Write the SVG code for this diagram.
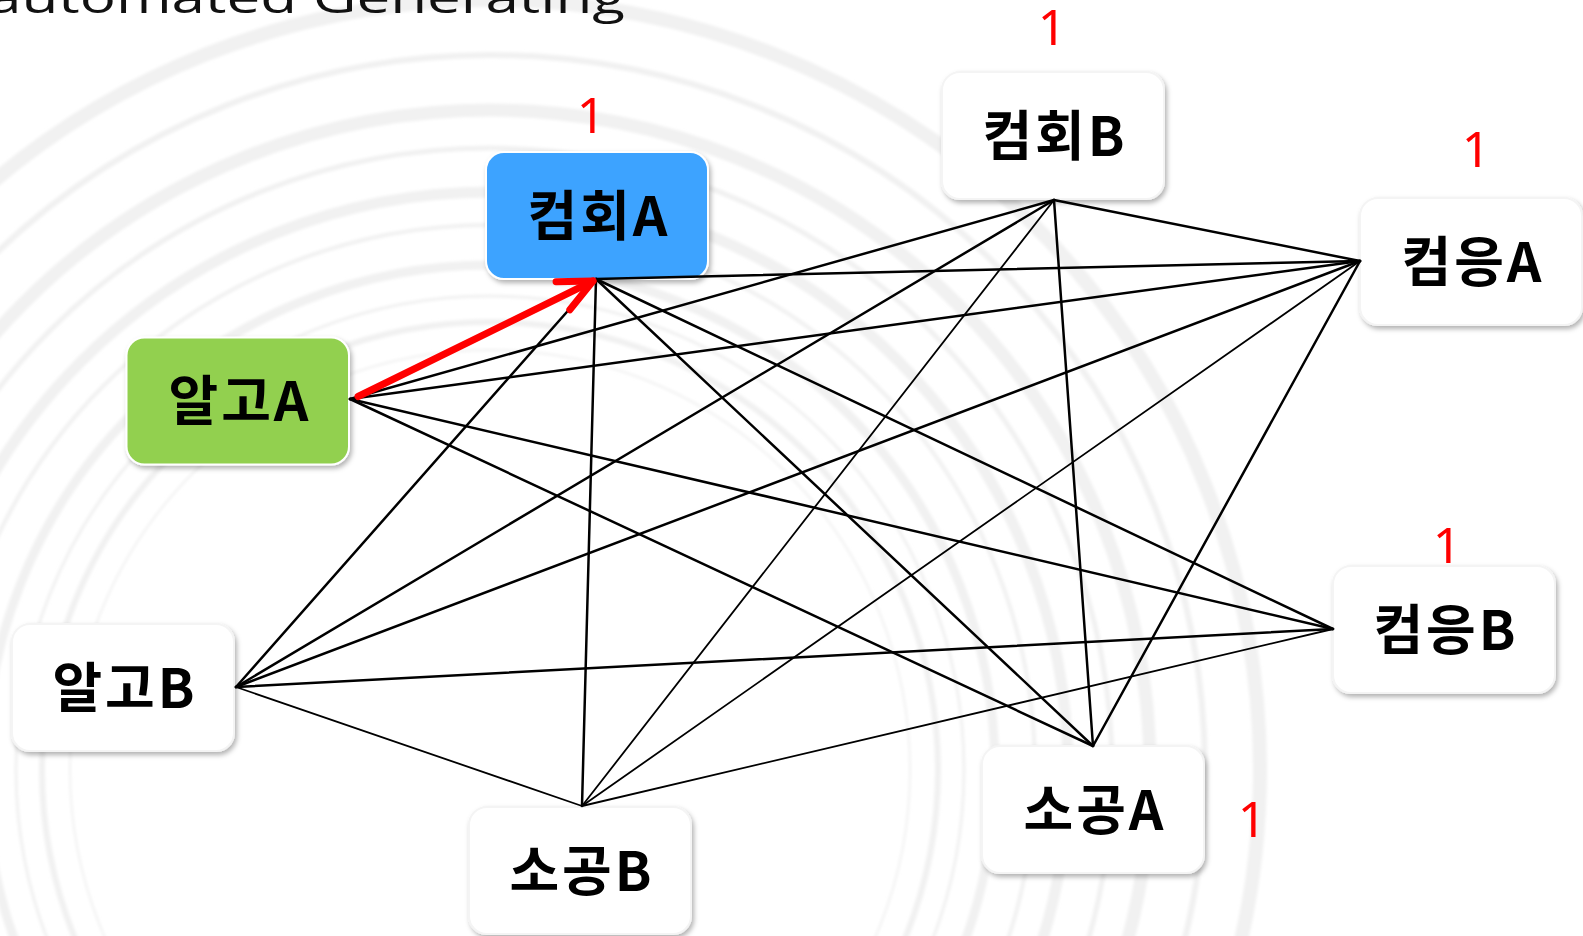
<svg xmlns="http://www.w3.org/2000/svg" width="1583" height="936" viewBox="0 0 1583 936">
  <style>
    .ring { fill: none; stroke: #f1f1f1; }
    .box { stroke-width: 2; }
    .white { fill: #ffffff; stroke: #f4f4f4; }
    .label { font-family: "Noto Sans CJK KR", "Noto Sans", sans-serif; font-weight: 700; font-size: 54px; letter-spacing: 3px; fill: #000000; text-anchor: middle; }
    .num { font-family: "Noto Sans", "Liberation Sans", sans-serif; font-weight: 400; font-size: 50px; fill: #ff0000; text-anchor: middle; }
    .title { font-family: "Open Sans", "Noto Sans", sans-serif; font-weight: 400; font-size: 44px; fill: #111111; }
    .edge { stroke: #000000; stroke-width: 2.5; fill: none; stroke-linecap: round; }
    .thin { stroke-width: 1.8; }
    .arrow { stroke: #ff0000; stroke-width: 7; fill: none; stroke-linecap: round; }
  </style>
  <defs>
    <filter id="shadow" x="-10%" y="-10%" width="125%" height="130%">
      <feDropShadow dx="2" dy="3" stdDeviation="2.5" flood-color="#000000" flood-opacity="0.3"/>
    </filter>
    <filter id="soft" x="-5%" y="-5%" width="110%" height="110%">
      <feGaussianBlur stdDeviation="1.5"/>
    </filter>
    <marker id="openhead" viewBox="-40 -20 46 40" markerWidth="46" markerHeight="40" refX="0" refY="0" orient="auto" markerUnits="userSpaceOnUse" overflow="visible">
      <path d="M -33.5 -15.6 L 0 0 L -33.5 15.6" fill="none" stroke="#ff0000" stroke-width="7" stroke-linecap="round" stroke-linejoin="round"/>
    </marker>
  </defs>

  <rect x="0" y="0" width="1583" height="936" fill="#ffffff"/>

  <g id="background" filter="url(#soft)">
    <circle class="ring" cx="490" cy="770" r="420" stroke-width="2"/>
    <circle class="ring" cx="490" cy="770" r="448" stroke-width="6"/>
    <circle class="ring" cx="490" cy="770" r="474" stroke-width="3"/>
    <circle class="ring" cx="490" cy="770" r="505" stroke-width="9"/>
    <circle class="ring" cx="490" cy="770" r="545" stroke-width="4"/>
    <circle class="ring" cx="490" cy="770" r="578" stroke-width="11"/>
    <circle class="ring" cx="490" cy="770" r="622" stroke-width="5"/>
    <circle class="ring" cx="490" cy="770" r="660" stroke-width="13"/>
    <circle class="ring" cx="490" cy="770" r="715" stroke-width="6"/>
    <circle class="ring" cx="490" cy="770" r="770" stroke-width="14"/>
  </g>

  <text class="title" x="-12" y="13" textLength="637" lengthAdjust="spacingAndGlyphs">automated Generating</text>

  <g id="node-keomhoe-a">
    <rect class="box" x="486" y="152" width="222" height="127" rx="18" fill="#3ca3ff" stroke="#ffffff" filter="url(#shadow)"/>
    <text class="label" x="599" y="236">컴회A</text>
    <text class="num" x="591" y="133">1</text>
  </g>
  <g id="node-keomhoe-b">
    <rect class="box white" x="942" y="72" width="222" height="127" rx="18" filter="url(#shadow)"/>
    <text class="label" x="1055" y="156">컴회B</text>
    <text class="num" x="1052" y="45">1</text>
  </g>
  <g id="node-keomeung-a">
    <rect class="box white" x="1360" y="198" width="222" height="127" rx="18" filter="url(#shadow)"/>
    <text class="label" x="1473" y="282">컴응A</text>
    <text class="num" x="1476" y="167">1</text>
  </g>
  <g id="node-algo-a">
    <rect class="box" x="126.5" y="337.5" width="222.5" height="127" rx="18" fill="#92d050" stroke="#ffffff" filter="url(#shadow)"/>
    <text class="label" x="240" y="421">알고A</text>
  </g>
  <g id="node-algo-b">
    <rect class="box white" x="12" y="624" width="222" height="127" rx="18" filter="url(#shadow)"/>
    <text class="label" x="125" y="708">알고B</text>
  </g>
  <g id="node-keomeung-b">
    <rect class="box white" x="1333" y="566" width="222" height="127" rx="18" filter="url(#shadow)"/>
    <text class="label" x="1446" y="650">컴응B</text>
    <text class="num" x="1447" y="563">1</text>
  </g>
  <g id="node-sogong-a">
    <rect class="box white" x="982" y="746" width="222" height="127" rx="18" filter="url(#shadow)"/>
    <text class="label" x="1095" y="830">소공A</text>
    <text class="num" x="1252" y="837">1</text>
  </g>
  <g id="node-sogong-b">
    <rect class="box white" x="469" y="807" width="222" height="127" rx="18" filter="url(#shadow)"/>
    <text class="label" x="582" y="891">소공B</text>
  </g>

  <g id="connectors">
    <line class="edge" x1="350" y1="399" x2="1054" y2="200"/>
    <line class="edge" x1="350" y1="399" x2="1360" y2="261"/>
    <line class="edge" x1="350" y1="399" x2="1333" y2="629"/>
    <line class="edge" x1="350" y1="399" x2="1093" y2="746"/>
    <line class="edge" x1="596" y1="279" x2="1360" y2="261"/>
    <line class="edge" x1="596" y1="279" x2="236" y2="687"/>
    <line class="edge" x1="596" y1="279" x2="582" y2="806"/>
    <line class="edge" x1="596" y1="279" x2="1093" y2="746"/>
    <line class="edge" x1="596" y1="279" x2="1333" y2="629"/>
    <line class="edge" x1="1054" y1="200" x2="236" y2="687"/>
    <line class="edge thin" x1="1054" y1="200" x2="582" y2="806"/>
    <line class="edge" x1="1054" y1="200" x2="1093" y2="746"/>
    <line class="edge" x1="1054" y1="200" x2="1360" y2="261"/>
    <line class="edge" x1="1360" y1="261" x2="236" y2="687"/>
    <line class="edge thin" x1="1360" y1="261" x2="582" y2="806"/>
    <line class="edge" x1="1360" y1="261" x2="1093" y2="746"/>
    <line class="edge" x1="1333" y1="629" x2="236" y2="687"/>
    <line class="edge thin" x1="1333" y1="629" x2="582" y2="806"/>
    <line class="edge thin" x1="236" y1="687" x2="582" y2="806"/>
    <line class="arrow" x1="358" y1="396.5" x2="593" y2="281" marker-end="url(#openhead)"/>
  </g>
</svg>
